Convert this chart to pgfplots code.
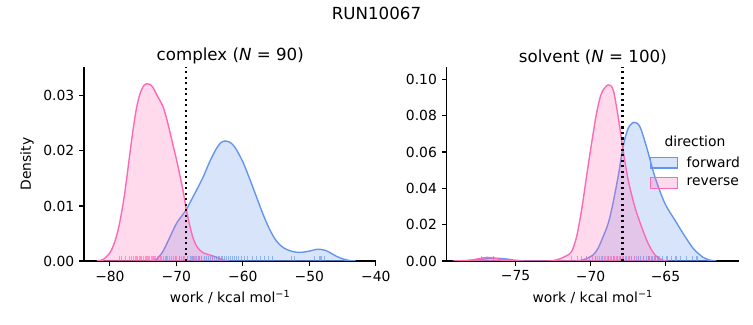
\documentclass[border=0pt]{standalone}
\usepackage{pgfplots}
\pgfplotsset{compat=1.18}
\usepackage{fontspec}
\setmainfont{DejaVu Sans}
\definecolor{fwd}{RGB}{100,149,237}
\definecolor{rev}{RGB}{255,105,180}
\pgfplotsset{
 base/.style={
  scale only axis, width=210.6pt, height=139.5pt,
  axis x line*=bottom, axis y line*=left,
  axis line style={line width=0.8pt, -},
  tick align=outside, major tick length=3.5pt,
  every tick/.style={black, line width=0.8pt},
  tick label style={font=\fontsize{10}{12}\selectfont},
  label style={font=\fontsize{10}{12}\selectfont},
  title style={font=\fontsize{12}{14}\selectfont, yshift=-7.5pt},
  xlabel={work / kcal mol\textsuperscript{−1}},
  scaled y ticks=false, scaled x ticks=false,
  ymin=0, clip=true,
 },
 kde/.style={draw=#1, line width=1pt, fill=#1, fill opacity=0.25, draw opacity=1, smooth, mark=none},
 rug/.style={draw=#1, ycomb, line width=0.75pt, draw opacity=0.65, mark=none, forget plot},
}
\begin{document}
\begin{tikzpicture}
\path[use as bounding box] (-60.48pt,-46.08pt) rectangle (481.7pt,187.92pt);
\node[font=\fontsize{12}{14}\selectfont] at (210.6pt,178.6pt) {RUN10067};
% ---------------- complex
\begin{axis}[base, at={(0pt,0pt)}, anchor=south west,
  xmin=-83.9, xmax=-39.9, ymax=0.0352,
  xtick={-80,-70,-60,-50,-40}, xticklabels={−80,−70,−60,−50,−40},
  ytick={0,0.01,0.02,0.03}, yticklabels={0.00,0.01,0.02,0.03},
  ylabel={Density},
  title={complex (\textit{N} = 90)}]
\addplot[kde=fwd, forget plot] coordinates {
(-74,0) (-73,0.0003) (-72,0.0018) (-71,0.0043) (-70,0.0068) (-69,0.0085) (-68.5,0.0093) (-68,0.0105) (-67,0.0128) (-66,0.0152) (-65,0.0180) (-64,0.0204) (-63.3,0.0215) (-62.7,0.0218) (-62,0.0216) (-61.5,0.0211) (-61,0.0203) (-60,0.0180) (-59,0.0150) (-58,0.0118) (-57,0.0086) (-56,0.0058) (-55,0.0037) (-54,0.0025) (-53,0.0019) (-52,0.0016) (-51,0.0016) (-50,0.0018) (-49,0.0021) (-48.3,0.0021) (-47.5,0.0019) (-47,0.0016) (-46,0.0009) (-45,0.0004) (-44,0.0001) (-43,0)
} \closedcycle;
\addplot[kde=rev, forget plot] coordinates {
(-82,0) (-81,0.0003) (-80,0.0015) (-79.3,0.0034) (-78.7,0.0060) (-78,0.0105) (-77.5,0.0148) (-77,0.0195) (-76.5,0.024) (-76,0.0278) (-75.5,0.0303) (-75,0.0317) (-74.5,0.0322) (-74,0.0321) (-73.5,0.0315) (-73,0.0303) (-72.5,0.0292) (-72,0.0280) (-71.5,0.0260) (-71,0.0236) (-70.5,0.0210) (-70,0.0185) (-69.5,0.0157) (-69,0.0128) (-68.5,0.0093) (-68,0.0065) (-67.5,0.0042) (-67,0.0028) (-66.5,0.0020) (-66,0.0015) (-65,0.0011) (-64,0.0007) (-63,0.0002) (-62,0)
} \closedcycle;
\addplot[rug=fwd] table[x index=0, y expr=0.00088] {
x
-71.5
-70.2
-69.5
-69.0
-68.4
-67.9
-67.5
-67.0
-66.6
-66.2
-65.8
-65.5
-65.2
-64.9
-64.6
-64.3
-64.0
-63.7
-63.5
-63.2
-63.0
-62.7
-62.5
-62.2
-61.9
-61.6
-61.3
-61.0
-60.6
-60.2
-59.8
-59.3
-58.6
-58.0
-57.4
-56.8
-56.2
-55.5
-52.7
-52.2
-49.2
-48.4
-48.2
-47.7
};
\addplot[rug=rev] table[x index=0, y expr=0.00088] {
x
-78.6
-78.2
-77.6
-77.1
-76.8
-76.5
-76.2
-76.0
-75.8
-75.6
-75.4
-75.2
-75.0
-74.9
-74.7
-74.5
-74.4
-74.2
-74.0
-73.8
-73.6
-73.5
-73.3
-73.1
-72.9
-72.7
-72.4
-72.2
-71.9
-71.6
-71.3
-71.0
-70.7
-70.4
-70.0
-69.6
-69.2
-68.8
-68.3
-67.8
-67.2
-66.6
-66.2
-64.5
};
\addplot[black, line width=1.5pt, dash pattern=on 1.5pt off 2.475pt, forget plot] coordinates {(-68.5,0) (-68.5,0.0352)};
\end{axis}
% ---------------- solvent
\begin{axis}[base, at={(261.1pt,0pt)}, anchor=south west,
  xmin=-79.6, xmax=-60.09, ymax=0.1066,
  xtick={-75,-70,-65}, xticklabels={−75,−70,−65},
  ytick={0,0.02,0.04,0.06,0.08,0.10}, yticklabels={0.00,0.02,0.04,0.06,0.08,0.10},
  title={solvent (\textit{N} = 100)},
  legend style={draw=none, fill=none, at={(0.693,0.555)}, anchor=north west,
    inner sep=0pt, row sep=2.5pt, column sep=4pt, font=\fontsize{10}{12}\selectfont},
  legend cell align=left,
  legend image code/.code={\draw[#1, sharp plot] (0pt,-3.85pt) rectangle (19.7pt,3.85pt);}]
\addplot[kde=fwd] coordinates {
(-78.7,0) (-78.2,0.0002) (-77.7,0.0006) (-77.2,0.0010) (-76.7,0.0014) (-76.3,0.0015) (-75.7,0.0012) (-75.2,0.0006) (-74.7,0.0002) (-74.2,0) (-71.2,0) (-70.7,0.0003) (-70.3,0.0012) (-69.83,0.0033) (-69.5,0.007) (-69.16,0.0134) (-68.85,0.020) (-68.6,0.028) (-68.16,0.0464) (-67.83,0.0629) (-67.49,0.073) (-67.09,0.0763) (-66.71,0.0739) (-66.27,0.0629) (-65.71,0.0464) (-65.05,0.0318) (-64.38,0.0226) (-63.83,0.0152) (-63.16,0.007) (-62.49,0.002) (-62.0,0.0004) (-61.6,0)
} \closedcycle;
\addlegendentry{forward}
\addplot[kde=rev] coordinates {
(-79.2,0) (-78.2,0.0003) (-77.7,0.0009) (-77.2,0.0017) (-76.9,0.0020) (-76.5,0.0017) (-76.0,0.0009) (-75.2,0.0002) (-74.7,0) (-72.8,0) (-72.4,0.0004) (-72.05,0.0012) (-71.65,0.0027) (-71.27,0.0051) (-70.93,0.0134) (-70.6,0.028) (-70.27,0.0464) (-69.93,0.0648) (-69.6,0.0813) (-69.27,0.0923) (-68.83,0.0969) (-68.49,0.0941) (-68.16,0.0794) (-67.83,0.0611) (-67.49,0.0446) (-67.05,0.0299) (-66.6,0.0189) (-66.16,0.0097) (-65.7,0.0033) (-65.16,0.0004) (-64.8,0)
} \closedcycle;
\addlegendentry{reverse}
\addplot[rug=fwd] table[x index=0, y expr=0.00267] {
x
-76.5
-70.3
-69.7
-69.2
-68.8
-68.5
-68.2
-68.0
-67.8
-67.6
-67.4
-67.25
-67.1
-66.95
-66.8
-66.65
-66.5
-66.3
-66.1
-65.9
-65.7
-65.5
-65.2
-64.9
-64.6
-64.3
-64.0
-63.6
-63.2
-62.9
};
\addplot[rug=rev] table[x index=0, y expr=0.00267] {
x
-77.26
-71.3
-70.9
-70.6
-70.3
-70.1
-69.9
-69.7
-69.55
-69.4
-69.25
-69.1
-69.0
-68.9
-68.8
-68.7
-68.6
-68.5
-68.4
-68.3
-68.2
-68.1
-68.0
-67.85
-67.7
-67.5
-67.3
-67.1
-66.8
-66.5
-66.1
-65.7
-65.4
};
\addplot[black, line width=1.5pt, dash pattern=on 1.5pt off 2.475pt, forget plot] coordinates {(-67.87,0) (-67.87,0.1066)};
\node[font=\fontsize{10}{12}\selectfont] at (rel axis cs:0.849,0.616) {direction};
\end{axis}
\end{tikzpicture}
\end{document}
